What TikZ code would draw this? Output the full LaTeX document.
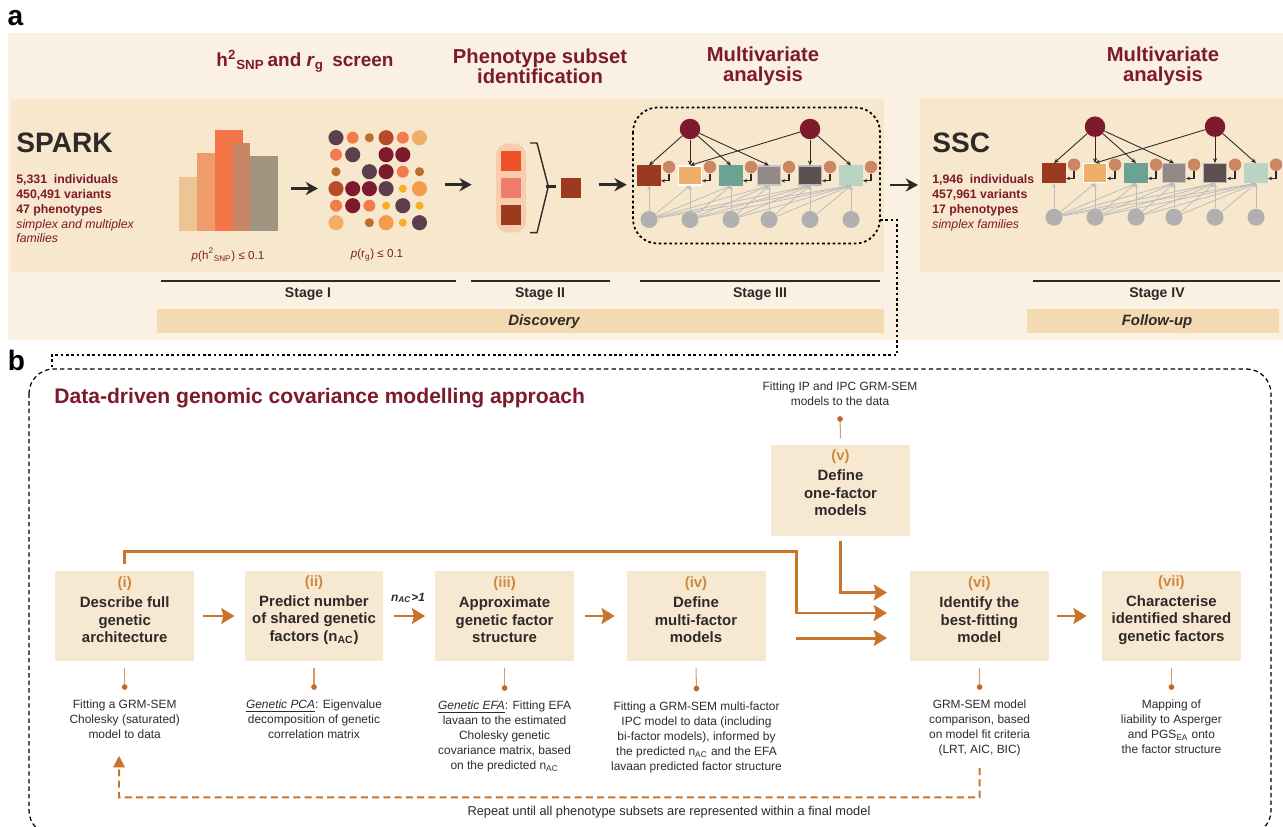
\documentclass[tikz,border=0pt]{standalone}
\usepackage{fontspec}
\setmainfont{Liberation Sans}
\usetikzlibrary{arrows.meta}

\definecolor{ink}{HTML}{2E2A2A}
\definecolor{dred}{HTML}{7D1A2B}
\definecolor{bgout}{HTML}{FAF1E3}
\definecolor{bgin}{HTML}{F7E7CC}
\definecolor{band}{HTML}{F3DAB0}
\definecolor{boxc}{HTML}{F7E9D1}
\definecolor{flowc}{HTML}{C8742C}
\definecolor{labc}{HTML}{D08840}
\definecolor{tickc}{HTML}{DC9A62}
\definecolor{dotc}{HTML}{C2692A}
\definecolor{resc}{HTML}{CA8761}
\definecolor{genc}{HTML}{B0B0B0}
\definecolor{cholc}{HTML}{BDBDBD}
\definecolor{sqa}{HTML}{9A3A1E}
\definecolor{sqb}{HTML}{F0AE6B}
\definecolor{sqc}{HTML}{6BA393}
\definecolor{sqd}{HTML}{948886}
\definecolor{sqe}{HTML}{5C5050}
\definecolor{sqf}{HTML}{BAD4C4}
\definecolor{dpur}{HTML}{5B3F4C}
\definecolor{org}{HTML}{F47A4B}
\definecolor{brn}{HTML}{BF6E2B}
\definecolor{rust}{HTML}{B54B27}
\definecolor{lor}{HTML}{F0AE6B}
\definecolor{yel}{HTML}{F5AF25}
\definecolor{org2}{HTML}{F59C4A}
\definecolor{bara}{HTML}{EBC593}
\definecolor{barb}{HTML}{EF9C6C}
\definecolor{barc}{HTML}{F37548}
\definecolor{bard}{HTML}{C98667}
\definecolor{bare}{HTML}{9F9580}
\definecolor{subbg}{HTML}{F7CDAE}
\definecolor{suba}{HTML}{EF5124}
\definecolor{subb}{HTML}{EE7D6B}
\definecolor{subc}{HTML}{9B3A1E}

\newcommand{\steplab}[1]{\textcolor{labc}{#1}}
\newcommand{\semnet}{%
  \node[fac] (f1) at (690,129) {};
  \node[fac] (f2) at (810,129) {};
  \foreach \i/\x/\c/\d in {1/649/sqa/sqa,2/690/sqb/white,3/731/sqc/sqc,4/769/sqd/gray!45,5/810/sqe/gray!55,6/851/sqf/sqf}{
    \node[obs,fill=\c,draw=\d] (o\i) at (\x,175.5) {};
    \node[res] (r\i) at (\x+20,167) {};
    \node[gen] (g\i) at (\x,219.5) {};
    \draw[resarr] (r\i.south) |- ([yshift=-3pt]o\i.east);
  }
  \foreach \i in {1,...,6}{\foreach \j in {\i,...,6}{\draw[chol] (g\i) -- (o\j.south);}}
  \foreach \j in {1,2,3,4}{\draw[load] (f1) -- (o\j.north);}
  \foreach \j in {2,5,6}{\draw[load] (f2) -- (o\j.north);}
}

\tikzset{
  head/.style={font=\bfseries\fontsize{11.5}{11.4}\selectfont, text=dred, align=center, inner sep=0pt},
  panel/.style={font=\bfseries\fontsize{16}{16}\selectfont, text=black, inner sep=0pt},
  cohortname/.style={font=\bfseries\fontsize{16}{16}\selectfont, text=ink, anchor=west, inner sep=0pt},
  cohort/.style={font=\bfseries\fontsize{7}{8.5}\selectfont, text=dred, align=left, anchor=north west, inner sep=0pt},
  plbl/.style={font=\fontsize{6.6}{8}\selectfont, text=dred, inner sep=0pt},
  stagelbl/.style={font=\bfseries\fontsize{8}{9}\selectfont, text=ink, inner sep=0pt},
  bandlbl/.style={font=\bfseries\itshape\fontsize{8.5}{9}\selectfont, text=ink, inner sep=0pt},
  stageline/.style={line width=1.1pt, ink},
  bigarr/.style={-{Stealth[length=7pt,width=7.5pt]}, line width=1.4pt, ink},
  fac/.style={circle, fill=dred, minimum size=0.41cm, inner sep=0pt},
  obs/.style={rectangle, minimum width=0.46cm, minimum height=0.38cm, inner sep=0pt, line width=0.7pt},
  res/.style={circle, fill=resc, minimum size=0.25cm, inner sep=0pt},
  gen/.style={circle, fill=genc, minimum size=0.34cm, inner sep=0pt},
  load/.style={-{Stealth[length=2.8pt,width=2.4pt]}, line width=0.5pt, ink},
  chol/.style={-{Stealth[length=2.5pt,width=2.2pt]}, line width=0.45pt, cholc},
  resarr/.style={-{Stealth[length=2.2pt,width=2pt]}, line width=0.6pt, ink},
  netbox/.style={line width=1pt, dash pattern=on 1.5pt off 1.5pt, rounded corners=14pt},
  panelbox/.style={line width=0.7pt, dash pattern=on 2.5pt off 1.8pt, rounded corners=14pt},
  stepbox/.style={fill=boxc, minimum width=2.78cm, minimum height=1.82cm, inner sep=0pt},
  steptxt/.style={font=\bfseries\fontsize{8.5}{9.9}\selectfont, text=ink, align=center, inner sep=0pt},
  desc/.style={font=\fontsize{6.8}{8.6}\selectfont, text=ink, align=center, inner sep=0pt},
  flow/.style={-{Stealth[length=7.5pt,width=9pt,inset=1.2pt]}, line width=1.7pt, flowc},
  tick/.style={-{Circle[length=3.2pt,color=dotc]}, line width=0.6pt, tickc},
  loopback/.style={-{Triangle[length=6.5pt,width=6.5pt]}, line width=1.1pt, flowc, dash pattern=on 4pt off 2.4pt}
}

\begin{document}
\begin{tikzpicture}[x=0.02cm,y=-0.02cm]
\fill[white] (0,0) rectangle (1283,827);
\useasboundingbox (0,0) rectangle (1283,827);

\fill[bgout] (8,33) rectangle (1283,340);
\fill[bgin] (10.7,99) rectangle (884,271.7);
\fill[bgin] (920,98.3) rectangle (1283,271.7);
\fill[band] (157,309) rectangle (884,332.7);
\fill[band] (1027,309) rectangle (1279,332.7);

\node[panel] (pa) at (15.5,18) {a};
\node[panel] (pb) at (16.5,360) {b};

\node[head, font=\bfseries\fontsize{10.8}{11}\selectfont] (hd1) at (305,61.5) {h\textsuperscript{2}\textsubscript{SNP}\,and \textit{r}\textsubscript{g}\, screen};
\node[head] (hd2) at (540,66.5) {Phenotype subset\\identification};
\node[head] (hd3) at (763,66.5) {Multivariate\\analysis};
\node[head] (hd4) at (1163,66.5) {Multivariate\\analysis};

\node[cohortname] (spark) at (16,143) {SPARK};
\node[cohort] (sparkinfo) at (16,174) {5,331\ \ individuals\\450,491 variants\\47 phenotypes\\\mdseries\itshape simplex and multiplex\\\mdseries\itshape families};
\node[cohortname] (ssc) at (932,143) {SSC};
\node[cohort] (sscinfo) at (932,174) {1,946\ \ individuals\\457,961 variants\\17 phenotypes\\\mdseries\itshape simplex families};

\fill[bara] (179,176.7) rectangle (197,230.7);
\fill[barb] (197,153) rectangle (215,230.7);
\fill[barc] (215,130) rectangle (243,230.7);
\fill[bard] (233,143) rectangle (250,230.7);
\fill[bare] (249.7,155.7) rectangle (278,230.7);
\node[plbl] (hlbl) at (228,255) {\textit{p}(h\textsuperscript{2}\textsubscript{SNP}) ≤ 0.1};

\foreach \c/\r/\k/\s in {0/0/dpur/4.3,1/0/org/3.4,2/0/brn/2.6,3/0/rust/4.3,4/0/org/3.4,5/0/lor/4.3,
  0/1/org/3.4,1/1/dpur/4.3,3/1/dred/4.3,4/1/dred/4.3,
  0/2/brn/2.6,2/2/dpur/4.3,3/2/dred/4.3,4/2/org/3.4,5/2/brn/2.6,
  0/3/rust/4.3,1/3/dred/4.3,2/3/dred/4.3,3/3/dpur/4.3,4/3/yel/2.3,5/3/org2/4.3,
  0/4/org/3.4,1/4/dred/4.3,2/4/org/3.4,3/4/yel/2.3,4/4/dpur/4.3,5/4/yel/2.3,
  0/5/lor/4.3,2/5/brn/2.6,3/5/org2/4.3,4/5/yel/2.3,5/5/dpur/4.3}
  \fill[\k] (336+16.7*\c,137.7+17*\r) circle[radius=\s pt];
\node[plbl] (rlbl) at (377,255) {\textit{p}(r\textsubscript{g}) ≤ 0.1};

\fill[subbg, rounded corners=7pt] (496,143.3) rectangle (526,232.7);
\fill[suba] (501,151) rectangle (521,171.3);
\fill[subb] (501,178) rectangle (521,197.7);
\fill[subc] (501,205) rectangle (521,225);
\draw[line width=0.8pt, ink] (530,143) -- (537,143) -- (548.3,186.5) -- (537,232.7) -- (530,232.7);
\draw[line width=1.2pt, ink] (546,186.5) -- (556,186.5);
\fill[subc] (560.7,178) rectangle (581,197.7);

\coordinate (histR) at (291,188.5);
\coordinate (dotsL) at (318,188.5);
\coordinate (dotsR) at (445,184.7);
\coordinate (subL) at (471.7,184.7);
\coordinate (subR) at (599,184.7);
\coordinate (netL) at (626.7,184.7);
\coordinate (sparkR) at (890,185);
\coordinate (sscL) at (918,185);
\draw[bigarr] (histR) -- (dotsL);
\draw[bigarr] (dotsR) -- (subL);
\draw[bigarr] (subR) -- (netL);
\draw[bigarr] (sparkR) -- (sscL);

\begin{scope}[name prefix=s3-]
\semnet
\end{scope}
\begin{scope}[shift={(405,-2.3)},name prefix=ssc-]
\semnet
\end{scope}
\draw[netbox] (633,107.5) rectangle (880,243.5);

\draw[stageline] (161,280.7) -- (456,280.7);
\draw[stageline] (471,280.7) -- (610,280.7);
\draw[stageline] (640,280.7) -- (880,280.7);
\draw[stageline] (1033,280.7) -- (1280,280.7);
\node[stagelbl] (st1) at (308,294.3) {Stage I};
\node[stagelbl] (st2) at (540,294.3) {Stage II};
\node[stagelbl] (st3) at (760,294.3) {Stage III};
\node[stagelbl] (st4) at (1157,294.3) {Stage IV};
\node[bandlbl] (disc) at (544,321.5) {Discovery};
\node[bandlbl] (foll) at (1157,321.5) {Follow-up};

\coordinate (netout) at (880,220);
\coordinate (pbtop) at (52,369);
\draw[netbox, rounded corners=0pt, line width=0.9pt] (netout) -| (897,355) -| (pbtop);
\draw[panelbox] (29,369) rectangle (1271,835);

\node[head, anchor=west, font=\bfseries\fontsize{12}{12}\selectfont] (title) at (54,398) {Data-driven genomic covariance modelling approach};

\node[stepbox] (s1) at (124.7,616) {};
\node[stepbox] (s2) at (314,616) {};
\node[stepbox] (s3) at (504.6,616) {};
\node[stepbox] (s4) at (696,616) {};
\node[stepbox] (s5) at (840.5,490.3) {};
\node[stepbox] (s6) at (979.3,616) {};
\node[stepbox] (s7) at (1171.4,616) {};
\node[steptxt] (t1) at ([yshift=3.4pt]s1.center) {\steplab{(i)}\\[1.5pt]Describe full\\genetic\\architecture};
\node[steptxt] (t2) at ([yshift=3.4pt]s2.center) {\steplab{(ii)}\\[1.5pt]Predict number\\of shared genetic\\factors (n\textsubscript{AC})};
\node[steptxt] (t3) at ([yshift=3.4pt]s3.center) {\steplab{(iii)}\\[1.5pt]Approximate\\genetic factor\\structure};
\node[steptxt] (t4) at ([yshift=3.4pt]s4.center) {\steplab{(iv)}\\[1.5pt]Define\\multi-factor\\models};
\node[steptxt] (t5) at ([yshift=4.2pt]s5.center) {\steplab{(v)}\\[1.5pt]Define\\one-factor\\models};
\node[steptxt] (t6) at ([yshift=3.4pt]s6.center) {\steplab{(vi)}\\[1.5pt]Identify the\\best-fitting\\model};
\node[steptxt] (t7) at ([yshift=3.4pt]s7.center) {\steplab{(vii)}\\[1.5pt]Characterise\\identified shared\\genetic factors};

\node[desc, anchor=north] (d1) at (124.7,699.5) {Fitting a GRM-SEM\\Cholesky (saturated)\\model to data};
\node[desc, anchor=north] (d2) at (314,699.5) {\underline{\textit{Genetic PCA}}: Eigenvalue\\decomposition of genetic\\correlation matrix};
\node[desc, anchor=north] (d3) at (504.6,700.5) {\underline{\textit{Genetic EFA}}: Fitting EFA\\lavaan to the estimated\\Cholesky genetic\\covariance matrix, based\\on the predicted n\textsubscript{AC}};
\node[desc, anchor=north] (d4) at (696.5,701) {Fitting a GRM-SEM multi-factor\\IPC model to data (including\\bi-factor models), informed by\\the predicted n\textsubscript{AC} and the EFA\\lavaan predicted factor structure};
\node[desc, anchor=north] (d5) at (840,381) {Fitting IP and IPC GRM-SEM\\models to the data};
\node[desc, anchor=north] (d6) at (979.6,699.5) {GRM-SEM model\\comparison, based\\on model fit criteria\\(LRT, AIC, BIC)};
\node[desc, anchor=north] (d7) at (1171.4,699.5) {Mapping of\\liability to Asperger\\and PGS\textsubscript{EA} onto\\the factor structure};

\foreach \k in {1,2,3,4,6,7}
  \draw[tick] ([yshift=-3.4pt]s\k.south) -- ([yshift=5.5pt]d\k.north);
\draw[tick] ([yshift=3.4pt]s5.north) -- ([yshift=-6pt]d5.south);

\draw[flow, shorten <=5pt, shorten >=5.5pt] (s1.east) -- (s2.west);
\draw[flow, shorten <=5.5pt, shorten >=5.5pt] (s2.east) -- (s3.west);
\draw[flow, shorten <=6pt, shorten >=6.5pt] (s3.east) -- (s4.west);
\draw[flow, shorten <=4.5pt, shorten >=8.5pt] (s6.east) -- (s7.west);
\node[font=\bfseries\itshape\fontsize{6.8}{7}\selectfont, text=ink, inner sep=0pt] (nac) at (408,598) {n\textsubscript{AC}>1};

\coordinate (in1) at (887,613);
\coordinate (in2) at (887,592.5);
\coordinate (in3) at (887,638);
\coordinate (out4) at (796,638);
\draw[flow, line join=miter] ([yshift=3.5pt]s1.north) |- (796,551.7) |- (in1);
\draw[flow, line join=miter] ([yshift=-3pt]s5.south) |- (in2);
\draw[flow] (out4) -- (in3);

\coordinate (lb1) at (979.6,797.3);
\coordinate (lb2) at (119,797.3);
\draw[loopback] ([yshift=-6.5pt]d6.south) -- (lb1) -- (lb2) -- ([xshift=-3.2pt,yshift=-9.5pt]d1.south);
\node[font=\fontsize{7.3}{8}\selectfont, text=ink, inner sep=0pt] (rep) at (669,811.7) {Repeat until all phenotype subsets are represented within a final model};
\end{tikzpicture}
\end{document}
